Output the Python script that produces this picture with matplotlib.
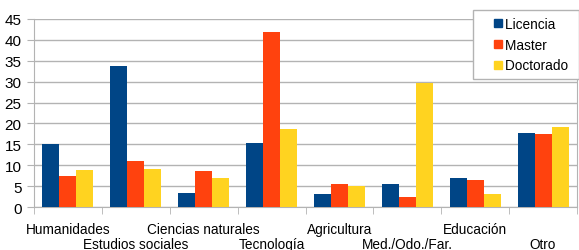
import numpy as np
import matplotlib.pyplot as plt
from matplotlib.lines import Line2D

plt.rcParams['font.family'] = ['Liberation Sans', 'DejaVu Sans']

categorias = ['Humanidades', 'Estudios sociales', 'Ciencias naturales', 'Tecnología',
              'Agricultura', 'Med./Odo./Far.', 'Educación', 'Otro']
licencia = [15.0, 33.8, 3.4, 15.4, 3.2, 5.6, 7.0, 17.8]
master = [7.5, 11.1, 8.7, 41.9, 5.6, 2.5, 6.5, 17.5]
doctorado = [8.9, 9.2, 7.0, 18.7, 5.1, 29.7, 3.2, 19.2]
series = ['Licencia', 'Master', 'Doctorado']
colores = ['#004586', '#ff420e', '#ffd320']

fig = plt.figure(figsize=(5.79, 2.51), dpi=100)
ax = fig.add_axes([34/579, 1 - 208/251, 543/579, 188/251])

x = np.arange(len(categorias))
w = 0.25
ax.bar(x - w, licencia, w, color=colores[0], zorder=3)
ax.bar(x, master, w, color=colores[1], zorder=3)
ax.bar(x + w, doctorado, w, color=colores[2], zorder=3)

ax.set_xlim(-0.5, len(categorias) - 0.5)
ax.set_ylim(0, 45)
ax.set_yticks(range(0, 46, 5))
ax.yaxis.grid(True, color='#b3b3b3', linewidth=1, zorder=0)
ax.tick_params(axis='y', length=5, color='#b3b3b3', labelsize=11, pad=4)

ax.set_xticks(x)
ax.set_xticklabels(categorias)
ax.set_xticks(np.arange(-0.5, len(categorias) + 0.5, 1), minor=True)
ax.tick_params(axis='x', which='major', length=0, labelsize=9.8, pad=11)
ax.tick_params(axis='x', which='minor', length=5, color='#b3b3b3')
for t in ax.xaxis.get_major_ticks()[1::2]:
    t.set_pad(21.5)

for s in ['left', 'bottom', 'right']:
    ax.spines[s].set_color('#b3b3b3')
ax.spines['top'].set_visible(False)

# marcadores cuadrados con algo de margen, como en la leyenda original
handles = [Line2D([], [], linestyle='none', marker='s', markersize=5.8,
                  markerfacecolor=c, markeredgecolor=c) for c in colores]
etiquetas = [s + ' ' for s in series]
leg = ax.legend(handles, etiquetas, loc='upper right', bbox_to_anchor=(1.004, 1.048),
                fontsize=9.8, fancybox=False, framealpha=1, edgecolor='#b3b3b3',
                handlelength=2.71, handletextpad=-0.83,
                borderpad=0.5, labelspacing=0.5, borderaxespad=0)
leg.get_frame().set_linewidth(1)

fig.savefig('out.png', dpi=100)
